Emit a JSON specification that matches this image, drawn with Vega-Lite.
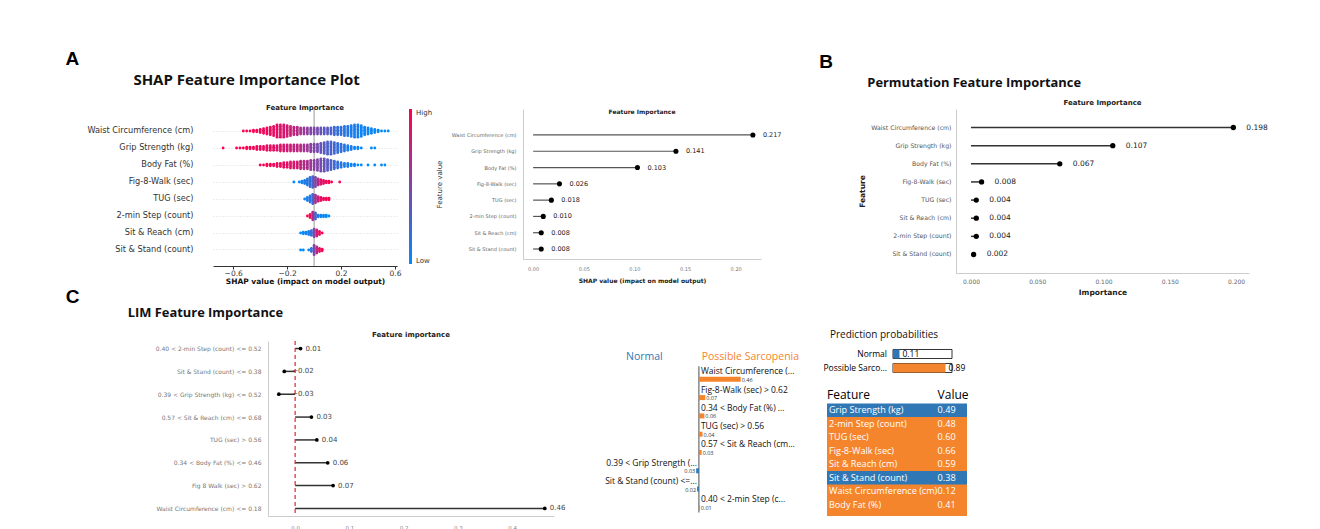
{
"$schema": "https://vega.github.io/schema/vega-lite/v6.json",
"background": "white",
"padding": {"left": 65, "top": 50, "right": 0, "bottom": 0},
"config": {
  "view": {"stroke": "transparent"},
  "font": "DejaVu Sans",
  "axis": {"grid": false, "ticks": false, "domainColor": "#cccccc", "labelColor": "#555555", "titleColor": "#222222", "labelFont": "DejaVu Sans", "titleFont": "DejaVu Sans"},
  "title": {"font": "DejaVu Sans", "fontWeight": "bold", "fontSize": 7, "color": "#222222", "offset": 3}
},
"resolve": {"scale": {"color": "independent"}, "legend": {"color": "independent"}},
"datasets": {
  "names": [{"f":"W","name":"Waist Circumference (cm)"},{"f":"G","name":"Grip Strength (kg)"},{"f":"B","name":"Body Fat (%)"},{"f":"F","name":"Fig-8-Walk (sec)"},{"f":"T","name":"TUG (sec)"},{"f":"S2","name":"2-min Step (count)"},{"f":"SR","name":"Sit & Reach (cm)"},{"f":"SS","name":"Sit & Stand (count)"}],
  "swarm": [
    {"f":"W","s":-0.525,"v":1,"l":[0]},
    {"f":"W","s":-0.5,"v":1,"l":[0]},
    {"f":"W","s":-0.475,"v":1,"l":[0]},
    {"f":"W","s":-0.45,"v":1,"l":[-0.5,0.5]},
    {"f":"W","s":-0.425,"v":0.95,"l":[-0.5,0.5]},
    {"f":"W","s":-0.4,"v":0.95,"l":[-1,0,1]},
    {"f":"W","s":-0.375,"v":0.95,"l":[-1.5,-0.5,0.5,1.5]},
    {"f":"W","s":-0.35,"v":0.95,"l":[-2,-1,0,1,2]},
    {"f":"W","s":-0.325,"v":0.9,"l":[-2.5,-1.5,-0.5,0.5,1.5,2.5]},
    {"f":"W","s":-0.3,"v":0.9,"l":[-3,-2,-1,0,1,2,3]},
    {"f":"W","s":-0.275,"v":0.9,"l":[-4,-3,-2,-1,0,1,2,3,4]},
    {"f":"W","s":-0.25,"v":0.85,"l":[-4,-3,-2,-1,0,1,2,3,4]},
    {"f":"W","s":-0.225,"v":0.85,"l":[-4,-3,-2,-1,0,1,2,3,4]},
    {"f":"W","s":-0.2,"v":0.8,"l":[-3.5,-2.5,-1.5,-0.5,0.5,1.5,2.5,3.5]},
    {"f":"W","s":-0.175,"v":0.8,"l":[-3,-2,-1,0,1,2,3]},
    {"f":"W","s":-0.15,"v":0.75,"l":[-2.5,-1.5,-0.5,0.5,1.5,2.5]},
    {"f":"W","s":-0.125,"v":0.7,"l":[-2.5,-1.5,-0.5,0.5,1.5,2.5]},
    {"f":"W","s":-0.1,"v":0.65,"l":[-2,-1,0,1,2]},
    {"f":"W","s":-0.075,"v":0.6,"l":[-2,-1,0,1,2]},
    {"f":"W","s":-0.05,"v":0.55,"l":[-2,-1,0,1,2]},
    {"f":"W","s":-0.025,"v":0.5,"l":[-2,-1,0,1,2]},
    {"f":"W","s":0,"v":0.5,"l":[-2,-1,0,1,2]},
    {"f":"W","s":0.025,"v":0.45,"l":[-2,-1,0,1,2]},
    {"f":"W","s":0.05,"v":0.4,"l":[-2,-1,0,1,2]},
    {"f":"W","s":0.075,"v":0.35,"l":[-2,-1,0,1,2]},
    {"f":"W","s":0.1,"v":0.35,"l":[-2,-1,0,1,2]},
    {"f":"W","s":0.125,"v":0.3,"l":[-2,-1,0,1,2]},
    {"f":"W","s":0.15,"v":0.25,"l":[-2.5,-1.5,-0.5,0.5,1.5,2.5]},
    {"f":"W","s":0.175,"v":0.2,"l":[-2.5,-1.5,-0.5,0.5,1.5,2.5]},
    {"f":"W","s":0.2,"v":0.2,"l":[-2.5,-1.5,-0.5,0.5,1.5,2.5]},
    {"f":"W","s":0.225,"v":0.15,"l":[-3,-2,-1,0,1,2,3]},
    {"f":"W","s":0.25,"v":0.15,"l":[-3,-2,-1,0,1,2,3]},
    {"f":"W","s":0.275,"v":0.1,"l":[-3.5,-2.5,-1.5,-0.5,0.5,1.5,2.5,3.5]},
    {"f":"W","s":0.3,"v":0.1,"l":[-4,-3,-2,-1,0,1,2,3,4]},
    {"f":"W","s":0.325,"v":0.1,"l":[-4,-3,-2,-1,0,1,2,3,4]},
    {"f":"W","s":0.35,"v":0.05,"l":[-3.5,-2.5,-1.5,-0.5,0.5,1.5,2.5,3.5]},
    {"f":"W","s":0.375,"v":0.05,"l":[-2.5,-1.5,-0.5,0.5,1.5,2.5]},
    {"f":"W","s":0.4,"v":0.05,"l":[-2,-1,0,1,2]},
    {"f":"W","s":0.425,"v":0.05,"l":[-1.5,-0.5,0.5,1.5]},
    {"f":"W","s":0.45,"v":0,"l":[-1,0,1]},
    {"f":"W","s":0.475,"v":0,"l":[-0.5,0.5]},
    {"f":"W","s":0.5,"v":0,"l":[0]},
    {"f":"W","s":0.525,"v":0,"l":[0]},
    {"f":"W","s":0.55,"v":0,"l":[0]},
    {"f":"G","s":-0.675,"v":1,"l":[0]},
    {"f":"G","s":-0.575,"v":1,"l":[0]},
    {"f":"G","s":-0.55,"v":1,"l":[0]},
    {"f":"G","s":-0.525,"v":1,"l":[0]},
    {"f":"G","s":-0.5,"v":1,"l":[-0.5,0.5]},
    {"f":"G","s":-0.475,"v":1,"l":[-0.5,0.5]},
    {"f":"G","s":-0.45,"v":0.95,"l":[-0.5,0.5]},
    {"f":"G","s":-0.425,"v":0.95,"l":[-1,0,1]},
    {"f":"G","s":-0.4,"v":0.95,"l":[-1,0,1]},
    {"f":"G","s":-0.375,"v":0.95,"l":[-1,0,1]},
    {"f":"G","s":-0.35,"v":0.9,"l":[-1.5,-0.5,0.5,1.5]},
    {"f":"G","s":-0.325,"v":0.9,"l":[-1.5,-0.5,0.5,1.5]},
    {"f":"G","s":-0.3,"v":0.9,"l":[-1.5,-0.5,0.5,1.5]},
    {"f":"G","s":-0.275,"v":0.85,"l":[-1.5,-0.5,0.5,1.5]},
    {"f":"G","s":-0.25,"v":0.85,"l":[-2,-1,0,1,2]},
    {"f":"G","s":-0.225,"v":0.85,"l":[-2,-1,0,1,2]},
    {"f":"G","s":-0.2,"v":0.8,"l":[-2,-1,0,1,2]},
    {"f":"G","s":-0.175,"v":0.8,"l":[-2,-1,0,1,2]},
    {"f":"G","s":-0.15,"v":0.75,"l":[-2,-1,0,1,2]},
    {"f":"G","s":-0.125,"v":0.75,"l":[-2,-1,0,1,2]},
    {"f":"G","s":-0.1,"v":0.7,"l":[-2,-1,0,1,2]},
    {"f":"G","s":-0.075,"v":0.65,"l":[-2,-1,0,1,2]},
    {"f":"G","s":-0.05,"v":0.6,"l":[-2,-1,0,1,2]},
    {"f":"G","s":-0.025,"v":0.55,"l":[-2.5,-1.5,-0.5,0.5,1.5,2.5]},
    {"f":"G","s":0,"v":0.5,"l":[-2.5,-1.5,-0.5,0.5,1.5,2.5]},
    {"f":"G","s":0.025,"v":0.45,"l":[-2.5,-1.5,-0.5,0.5,1.5,2.5]},
    {"f":"G","s":0.05,"v":0.4,"l":[-3,-2,-1,0,1,2,3]},
    {"f":"G","s":0.075,"v":0.35,"l":[-3.5,-2.5,-1.5,-0.5,0.5,1.5,2.5,3.5]},
    {"f":"G","s":0.1,"v":0.3,"l":[-4,-3,-2,-1,0,1,2,3,4]},
    {"f":"G","s":0.125,"v":0.3,"l":[-4,-3,-2,-1,0,1,2,3,4]},
    {"f":"G","s":0.15,"v":0.25,"l":[-3.5,-2.5,-1.5,-0.5,0.5,1.5,2.5,3.5]},
    {"f":"G","s":0.175,"v":0.2,"l":[-3,-2,-1,0,1,2,3]},
    {"f":"G","s":0.2,"v":0.2,"l":[-2.5,-1.5,-0.5,0.5,1.5,2.5]},
    {"f":"G","s":0.225,"v":0.15,"l":[-2,-1,0,1,2]},
    {"f":"G","s":0.25,"v":0.1,"l":[-1.5,-0.5,0.5,1.5]},
    {"f":"G","s":0.275,"v":0.1,"l":[-1,0,1]},
    {"f":"G","s":0.3,"v":0.05,"l":[-0.5,0.5]},
    {"f":"G","s":0.325,"v":0.05,"l":[-0.5,0.5]},
    {"f":"G","s":0.35,"v":0,"l":[0]},
    {"f":"G","s":0.425,"v":0,"l":[0]},
    {"f":"G","s":0.45,"v":0,"l":[0]},
    {"f":"B","s":-0.4,"v":1,"l":[0]},
    {"f":"B","s":-0.375,"v":1,"l":[0]},
    {"f":"B","s":-0.35,"v":1,"l":[-0.5,0.5]},
    {"f":"B","s":-0.325,"v":1,"l":[-0.5,0.5]},
    {"f":"B","s":-0.3,"v":0.95,"l":[-0.5,0.5]},
    {"f":"B","s":-0.275,"v":0.95,"l":[-1,0,1]},
    {"f":"B","s":-0.25,"v":0.95,"l":[-1,0,1]},
    {"f":"B","s":-0.225,"v":0.9,"l":[-1.5,-0.5,0.5,1.5]},
    {"f":"B","s":-0.2,"v":0.9,"l":[-1.5,-0.5,0.5,1.5]},
    {"f":"B","s":-0.175,"v":0.85,"l":[-2,-1,0,1,2]},
    {"f":"B","s":-0.15,"v":0.85,"l":[-2,-1,0,1,2]},
    {"f":"B","s":-0.125,"v":0.8,"l":[-2,-1,0,1,2]},
    {"f":"B","s":-0.1,"v":0.75,"l":[-2.5,-1.5,-0.5,0.5,1.5,2.5]},
    {"f":"B","s":-0.075,"v":0.7,"l":[-2.5,-1.5,-0.5,0.5,1.5,2.5]},
    {"f":"B","s":-0.05,"v":0.65,"l":[-2.5,-1.5,-0.5,0.5,1.5,2.5]},
    {"f":"B","s":-0.025,"v":0.6,"l":[-3,-2,-1,0,1,2,3]},
    {"f":"B","s":0,"v":0.55,"l":[-3,-2,-1,0,1,2,3]},
    {"f":"B","s":0.025,"v":0.5,"l":[-3.5,-2.5,-1.5,-0.5,0.5,1.5,2.5,3.5]},
    {"f":"B","s":0.05,"v":0.45,"l":[-4,-3,-2,-1,0,1,2,3,4]},
    {"f":"B","s":0.075,"v":0.4,"l":[-4,-3,-2,-1,0,1,2,3,4]},
    {"f":"B","s":0.1,"v":0.35,"l":[-3.5,-2.5,-1.5,-0.5,0.5,1.5,2.5,3.5]},
    {"f":"B","s":0.125,"v":0.3,"l":[-3,-2,-1,0,1,2,3]},
    {"f":"B","s":0.15,"v":0.25,"l":[-2.5,-1.5,-0.5,0.5,1.5,2.5]},
    {"f":"B","s":0.175,"v":0.2,"l":[-2,-1,0,1,2]},
    {"f":"B","s":0.2,"v":0.15,"l":[-1.5,-0.5,0.5,1.5]},
    {"f":"B","s":0.225,"v":0.1,"l":[-1,0,1]},
    {"f":"B","s":0.25,"v":0.1,"l":[-1,0,1]},
    {"f":"B","s":0.275,"v":0.05,"l":[-0.5,0.5]},
    {"f":"B","s":0.3,"v":0.05,"l":[-0.5,0.5]},
    {"f":"B","s":0.325,"v":0,"l":[0]},
    {"f":"B","s":0.35,"v":0,"l":[0]},
    {"f":"B","s":0.4,"v":0,"l":[0]},
    {"f":"B","s":0.45,"v":0,"l":[0]},
    {"f":"B","s":0.5,"v":0,"l":[0]},
    {"f":"B","s":0.525,"v":0,"l":[0]},
    {"f":"F","s":-0.15,"v":0,"l":[0]},
    {"f":"F","s":-0.11,"v":0.05,"l":[0]},
    {"f":"F","s":-0.09,"v":0.05,"l":[-0.5,0.5]},
    {"f":"F","s":-0.07,"v":0.1,"l":[-1,0,1]},
    {"f":"F","s":-0.05,"v":0.15,"l":[-2,-1,0,1,2]},
    {"f":"F","s":-0.03,"v":0.2,"l":[-3,-2,-1,0,1,2,3]},
    {"f":"F","s":-0.01,"v":0.3,"l":[-3.5,-2.5,-1.5,-0.5,0.5,1.5,2.5,3.5]},
    {"f":"F","s":0.01,"v":0.5,"l":[-3,-2,-1,0,1,2,3]},
    {"f":"F","s":0.03,"v":0.7,"l":[-2,-1,0,1,2]},
    {"f":"F","s":0.05,"v":0.85,"l":[-1.5,-0.5,0.5,1.5]},
    {"f":"F","s":0.07,"v":0.9,"l":[-1,0,1]},
    {"f":"F","s":0.09,"v":0.95,"l":[-0.5,0.5]},
    {"f":"F","s":0.11,"v":1,"l":[-0.5,0.5]},
    {"f":"F","s":0.13,"v":1,"l":[0]},
    {"f":"F","s":0.19,"v":1,"l":[0]},
    {"f":"T","s":-0.07,"v":0.05,"l":[0]},
    {"f":"T","s":-0.05,"v":0.1,"l":[-1,0,1]},
    {"f":"T","s":-0.03,"v":0.15,"l":[-2,-1,0,1,2]},
    {"f":"T","s":-0.01,"v":0.3,"l":[-3,-2,-1,0,1,2,3]},
    {"f":"T","s":0.01,"v":0.6,"l":[-2.5,-1.5,-0.5,0.5,1.5,2.5]},
    {"f":"T","s":0.03,"v":0.8,"l":[-1.5,-0.5,0.5,1.5]},
    {"f":"T","s":0.05,"v":0.9,"l":[-1,0,1]},
    {"f":"T","s":0.07,"v":0.95,"l":[-0.5,0.5]},
    {"f":"T","s":0.09,"v":1,"l":[-0.5,0.5]},
    {"f":"T","s":0.11,"v":1,"l":[-0.5,0.5]},
    {"f":"S2","s":-0.05,"v":1,"l":[0]},
    {"f":"S2","s":-0.03,"v":0.9,"l":[-1,0,1]},
    {"f":"S2","s":-0.01,"v":0.7,"l":[-2.5,-1.5,-0.5,0.5,1.5,2.5]},
    {"f":"S2","s":0.01,"v":0.3,"l":[-2,-1,0,1,2]},
    {"f":"S2","s":0.03,"v":0.1,"l":[-0.5,0.5]},
    {"f":"S2","s":0.05,"v":0.05,"l":[-0.5,0.5]},
    {"f":"S2","s":0.07,"v":0,"l":[-0.5,0.5]},
    {"f":"S2","s":0.09,"v":0,"l":[-0.5,0.5]},
    {"f":"S2","s":0.11,"v":0,"l":[0]},
    {"f":"SR","s":-0.1,"v":0,"l":[0]},
    {"f":"SR","s":-0.08,"v":0,"l":[-0.5,0.5]},
    {"f":"SR","s":-0.06,"v":0.05,"l":[-0.5,0.5]},
    {"f":"SR","s":-0.04,"v":0.1,"l":[-1,0,1]},
    {"f":"SR","s":-0.02,"v":0.2,"l":[-1.5,-0.5,0.5,1.5]},
    {"f":"SR","s":0,"v":0.5,"l":[-2.5,-1.5,-0.5,0.5,1.5,2.5]},
    {"f":"SR","s":0.02,"v":0.8,"l":[-2,-1,0,1,2]},
    {"f":"SR","s":0.04,"v":0.95,"l":[-1,0,1]},
    {"f":"SR","s":0.06,"v":1,"l":[0]},
    {"f":"SS","s":-0.1,"v":0,"l":[0]},
    {"f":"SS","s":-0.08,"v":0,"l":[0]},
    {"f":"SS","s":-0.04,"v":0.05,"l":[0]},
    {"f":"SS","s":-0.02,"v":0.2,"l":[-1,0,1]},
    {"f":"SS","s":0,"v":0.5,"l":[-3,-2,-1,0,1,2,3]},
    {"f":"SS","s":0.02,"v":0.7,"l":[-2,-1,0,1,2]},
    {"f":"SS","s":0.04,"v":0.9,"l":[-1,0,1]},
    {"f":"SS","s":0.06,"v":1,"l":[-0.5,0.5]}
  ],
  "shap": [{"name":"Waist Circumference (cm)","val":0.217},{"name":"Grip Strength (kg)","val":0.141},{"name":"Body Fat (%)","val":0.103},{"name":"Fig-8-Walk (sec)","val":0.026},{"name":"TUG (sec)","val":0.018},{"name":"2-min Step (count)","val":0.010},{"name":"Sit & Reach (cm)","val":0.008},{"name":"Sit & Stand (count)","val":0.008}],
  "perm": [{"name":"Waist Circumference (cm)","val":0.198},{"name":"Grip Strength (kg)","val":0.107},{"name":"Body Fat (%)","val":0.067},{"name":"Fig-8-Walk (sec)","val":0.008},{"name":"TUG (sec)","val":0.004},{"name":"Sit & Reach (cm)","val":0.004},{"name":"2-min Step (count)","val":0.004},{"name":"Sit & Stand (count)","val":0.002}],
  "lim": [{"name":"0.40 < 2-min Step (count) <= 0.52","val":0.01},{"name":"Sit & Stand (count) <= 0.38","val":-0.02},{"name":"0.39 < Grip Strength (kg) <= 0.52","val":-0.03},{"name":"0.57 < Sit & Reach (cm) <= 0.68","val":0.03},{"name":"TUG (sec) > 0.56","val":0.04},{"name":"0.34 < Body Fat (%) <= 0.46","val":0.06},{"name":"Fig 8 Walk (sec) > 0.62","val":0.07},{"name":"Waist Circumference (cm) <= 0.18","val":0.46}],
  "lime": [{"name":"Waist Circumference (...","val":0.46,"lab":"0.46","side":"Possible Sarcopenia"},{"name":"Fig-8-Walk (sec) > 0.62","val":0.07,"lab":"0.07","side":"Possible Sarcopenia"},{"name":"0.34 < Body Fat (%) ...","val":0.06,"lab":"0.06","side":"Possible Sarcopenia"},{"name":"TUG (sec) > 0.56","val":0.04,"lab":"0.04","side":"Possible Sarcopenia"},{"name":"0.57 < Sit & Reach (cm...","val":0.03,"lab":"0.03","side":"Possible Sarcopenia"},{"name":"0.39 < Grip Strength (...","val":-0.03,"lab":"0.03","side":"Normal"},{"name":"Sit & Stand (count) <=...","val":-0.02,"lab":"0.02","side":"Normal"},{"name":"0.40 < 2-min Step (c...","val":0.01,"lab":"0.01","side":"Possible Sarcopenia"}],
  "probs": [{"cls":"Normal","p":0.11,"side":"Normal"},{"cls":"Possible Sarco...","p":0.89,"side":"Possible Sarcopenia"}],
  "table": [{"feat":"Grip Strength (kg)","val":0.49,"side":"Normal"},{"feat":"2-min Step (count)","val":0.48,"side":"Possible Sarcopenia"},{"feat":"TUG (sec)","val":0.60,"side":"Possible Sarcopenia"},{"feat":"Fig-8-Walk (sec)","val":0.66,"side":"Possible Sarcopenia"},{"feat":"Sit & Reach (cm)","val":0.59,"side":"Possible Sarcopenia"},{"feat":"Sit & Stand (count)","val":0.38,"side":"Normal"},{"feat":"Waist Circumference (cm)","val":0.12,"side":"Possible Sarcopenia"},{"feat":"Body Fat (%)","val":0.41,"side":"Possible Sarcopenia"}]
},
"spacing": -9,
"vconcat": [
 {"resolve": {"scale": {"color": "independent"}, "legend": {"color": "independent"}},
  "spacing": 36,
  "hconcat": [
   {"title": {"text": "A", "anchor": "start", "font": "Liberation Sans", "fontSize": 19, "fontWeight": "bold", "color": "#000000", "dx": -21, "offset": 4},
    "resolve": {"scale": {"color": "independent"}, "legend": {"color": "independent"}},
    "vconcat": [
     {"title": {"text": "SHAP Feature Importance Plot", "anchor": "start", "font": "Open Sans", "fontSize": 15, "fontWeight": "bold", "color": "#111111", "dx": 47, "offset": 15},
      "resolve": {"scale": {"color": "independent"}, "legend": {"color": "independent"}},
      "spacing": 0,
      "hconcat": [
       {"width": 184, "height": 157,
        "title": {"text": "Feature Importance", "anchor": "middle", "frame": "group", "offset": -2, "fontSize": 7},
        "layer": [
         {"data": {"values": [{}]}, "mark": {"type": "rule", "color": "#999999", "strokeWidth": 1}, "encoding": {"x": {"datum": 0, "type": "quantitative"}}},
         {"data": {"name": "swarm"},
          "transform": [{"flatten": ["l"]}, {"lookup": "f", "from": {"data": {"name": "names"}, "key": "f", "fields": ["name"]}}],
          "mark": {"type": "circle", "size": 8, "opacity": 1},
          "encoding": {
           "x": {"field": "s", "type": "quantitative", "scale": {"domain": [-0.75, 0.615], "nice": false, "zero": false},
                 "axis": {"title": "SHAP value (impact on model output)", "titleFontSize": 7.5, "titleFontWeight": "bold", "titleColor": "#111111", "titlePadding": 1, "values": [-0.6,-0.4,-0.2,0,0.2,0.4,0.6], "format": ".1f", "labelFontSize": 7.5, "labelColor": "#333333", "domainColor": "#333333", "ticks": true, "tickSize": 3, "tickColor": "#333333", "labelPadding": 0}},
           "y": {"field": "name", "type": "nominal", "sort": ["Waist Circumference (cm)","Grip Strength (kg)","Body Fat (%)","Fig-8-Walk (sec)","TUG (sec)","2-min Step (count)","Sit & Reach (cm)","Sit & Stand (count)"],
                 "scale": {"paddingInner": 0, "paddingOuter": 0.618, "align": 0.643},
                 "axis": {"title": null, "labelFontSize": 8.2, "labelColor": "#333333", "labelPadding": 20, "domain": false, "grid": true, "gridColor": "#dddddd", "gridDash": [1, 2], "bandPosition": 0.5}},
           "yOffset": {"field": "l", "type": "quantitative", "scale": {"domain": [-5.5, 5.5]}},
           "color": {"field": "v", "type": "quantitative", "scale": {"domain": [0, 1], "range": ["#008bfb", "#ff0051"], "interpolate": "rgb"},
                     "legend": {"title": null, "orient": "right", "offset": 12, "gradientLength": 155, "gradientThickness": 3, "values": [0, 1], "labelExpr": "datum.value > 0.5 ? 'High' : 'Low'", "labelFontSize": 7, "labelColor": "#333333", "labelOffset": 4, "gradientStrokeWidth": 0}}
          }}
        ]},
       {"width": 238, "height": 150,
        "title": {"text": "Feature Importance", "anchor": "middle", "frame": "group", "offset": -6, "fontSize": 6},
        "data": {"name": "shap"},
        "encoding": {"y": {"field": "name", "type": "nominal", "sort": null, "scale": {"paddingInner": 0, "paddingOuter": 0.604, "align": 0.906},
                           "axis": {"title": "Feature value", "titleFontSize": 7, "titleFontWeight": "normal", "titleColor": "#333333", "titlePadding": 9, "labelFontSize": 5, "labelColor": "#666666", "labelPadding": 7, "domainColor": "#cccccc"}}},
        "layer": [
         {"mark": {"type": "rule", "color": "#555555", "strokeWidth": 1.2},
          "encoding": {"x": {"field": "val", "type": "quantitative", "scale": {"domain": [-0.01, 0.225], "nice": false, "zero": false},
                             "axis": {"title": "SHAP value (impact on model output)", "titleFontSize": 6, "titleFontWeight": "bold", "titlePadding": 6, "values": [0, 0.05, 0.1, 0.15, 0.2], "format": ".2f", "labelFontSize": 5, "labelColor": "#777777", "labelPadding": 7, "domainColor": "#cccccc"}},
                       "x2": {"datum": 0}}},
         {"mark": {"type": "circle", "size": 26, "color": "#000000", "opacity": 1}, "encoding": {"x": {"field": "val", "type": "quantitative"}}},
         {"mark": {"type": "text", "align": "left", "dx": 10, "fontSize": 6.5, "color": "#222222"}, "encoding": {"x": {"field": "val", "type": "quantitative"}, "text": {"field": "val", "type": "quantitative", "format": ".3f"}}}
        ]}
      ]}
    ]},
   {"title": {"text": "B", "anchor": "start", "font": "Liberation Sans", "fontSize": 19, "fontWeight": "bold", "color": "#000000", "dx": -39, "offset": 5},
    "vconcat": [
     {"title": {"text": "Permutation Feature Importance", "anchor": "start", "font": "Open Sans", "fontSize": 12.9, "fontWeight": "bold", "color": "#111111", "dx": 9, "offset": 9},
      "vconcat": [
       {"width": 293, "height": 164,
        "title": {"text": "Feature Importance", "anchor": "middle", "frame": "group", "offset": 3, "fontSize": 7},
        "data": {"name": "perm"},
        "encoding": {"y": {"field": "name", "type": "nominal", "sort": null, "scale": {"paddingInner": 0, "paddingOuter": 0.52},
                           "axis": {"title": "Feature", "titleFontSize": 7.5, "titleFontWeight": "bold", "titlePadding": 4, "labelFontSize": 6.2, "labelColor": "#555555", "labelPadding": 5, "domainColor": "#cccccc"}}},
        "layer": [
         {"mark": {"type": "rule", "color": "#333333", "strokeWidth": 1.5},
          "encoding": {"x": {"field": "val", "type": "quantitative", "scale": {"domain": [-0.0113, 0.2098], "nice": false, "zero": false},
                             "axis": {"title": "Importance", "titleFontSize": 7.5, "titleFontWeight": "bold", "titlePadding": 4, "values": [0, 0.025, 0.05, 0.075, 0.1, 0.125, 0.15, 0.175, 0.2], "format": ".3f", "labelFontSize": 6, "labelColor": "#666666", "labelPadding": 5, "domainColor": "#cccccc"}},
                       "x2": {"datum": 0}}},
         {"mark": {"type": "circle", "size": 28, "color": "#000000", "opacity": 1}, "encoding": {"x": {"field": "val", "type": "quantitative"}}},
         {"mark": {"type": "text", "align": "left", "dx": 13, "fontSize": 7.5, "color": "#222222"}, "encoding": {"x": {"field": "val", "type": "quantitative"}, "text": {"field": "val", "type": "quantitative", "format": ".3f"}}}
        ]}
      ]}
    ]}
 ]},
 {"spacing": -149,
  "hconcat": [
   {"width": 1, "height": 1, "data": {"values": [{}]}, "mark": {"type": "text"}, "encoding": {"text": {"value": " "}}},
   {"spacing": 38,
    "hconcat": [
     {"title": {"text": "C", "anchor": "start", "font": "Liberation Sans", "fontSize": 19, "fontWeight": "bold", "color": "#000000", "dx": -62, "offset": 0},
      "vconcat": [
       {"title": {"text": "LIM Feature Importance", "anchor": "start", "font": "Open Sans", "fontSize": 12.9, "fontWeight": "bold", "color": "#111111", "dx": -27, "offset": 11.5},
        "vconcat": [
         {"width": 286, "height": 175,
          "title": {"text": "Feature importance", "anchor": "middle", "frame": "group", "offset": 2, "fontSize": 7},
          "layer": [
           {"data": {"name": "lim"}, "mark": {"type": "rule", "color": "#333333", "strokeWidth": 1.5},
            "encoding": {"x": {"field": "val", "type": "quantitative", "scale": {"domain": [-0.05, 0.477], "nice": false, "zero": false},
                               "axis": {"title": "Importance", "titleFontSize": 7, "titleFontWeight": "bold", "titlePadding": 2, "values": [0, 0.1, 0.2, 0.3, 0.4], "format": ".1f", "labelFontSize": 5.5, "labelColor": "#888888", "labelPadding": 9, "domainColor": "#cccccc"}},
                         "x2": {"datum": 0},
                         "y": {"field": "name", "type": "nominal", "sort": null, "scale": {"type": "point", "padding": 0.33},
                               "axis": {"title": null, "labelFontSize": 6, "labelColor": "#777777", "labelPadding": 7, "domainColor": "#cccccc"}}}},
           {"data": {"name": "lim"}, "mark": {"type": "circle", "size": 14, "color": "#000000", "opacity": 1},
            "encoding": {"x": {"field": "val", "type": "quantitative"}, "y": {"field": "name", "type": "nominal", "sort": null}}},
           {"data": {"name": "lim"}, "transform": [{"filter": "datum.val >= 0"}],
            "mark": {"type": "text", "align": "left", "dx": 5, "fontSize": 7, "color": "#444444"},
            "encoding": {"x": {"field": "val", "type": "quantitative"}, "y": {"field": "name", "type": "nominal", "sort": null}, "text": {"field": "val", "type": "quantitative", "format": ".2f"}}},
           {"data": {"name": "lim"}, "transform": [{"filter": "datum.val < 0"}],
            "mark": {"type": "text", "align": "left", "dx": -3, "fontSize": 7, "color": "#444444"},
            "encoding": {"x": {"datum": 0, "type": "quantitative"}, "y": {"field": "name", "type": "nominal", "sort": null}, "text": {"field": "val", "type": "quantitative", "format": ".2f"}}},
           {"data": {"values": [{}]}, "mark": {"type": "rule", "color": "#e3242b", "strokeDash": [4, 3], "strokeWidth": 1.2},
            "encoding": {"x": {"datum": 0, "type": "quantitative"}}}
          ]}
        ]}
      ]},
     {"spacing": 13,
      "hconcat": [
       {"width": 200, "height": 171.55,
        "layer": [
         {"data": {"name": "lime"}, "mark": {"type": "tick", "color": "#000000", "thickness": 1, "size": 18.3},
          "encoding": {"x": {"datum": 0, "type": "quantitative", "scale": {"domain": [-1, 1.2], "nice": false, "zero": false}, "axis": null},
                       "y": {"field": "name", "type": "nominal", "sort": null,
                             "scale": {"domain": ["hdr","Waist Circumference (...","Fig-8-Walk (sec) > 0.62","0.34 < Body Fat (%) ...","TUG (sec) > 0.56","0.57 < Sit & Reach (cm...","0.39 < Grip Strength (...","Sit & Stand (count) <=...","0.40 < 2-min Step (c..."], "paddingInner": 0, "paddingOuter": 0.187, "align": 1},
                             "axis": null}}},
         {"data": {"name": "lime"}, "mark": {"type": "bar", "height": 5, "yOffset": 4},
          "encoding": {"x": {"field": "val", "type": "quantitative"}, "x2": {"datum": 0}, "y": {"field": "name", "type": "nominal", "sort": null},
                       "color": {"field": "side", "type": "nominal", "scale": {"domain": ["Normal", "Possible Sarcopenia"], "range": ["#2f78b5", "#f5852c"]}, "legend": null}}},
         {"data": {"name": "lime"}, "transform": [{"filter": "datum.val > 0"}],
          "mark": {"type": "text", "align": "left", "baseline": "middle", "dx": 2, "dy": -4, "font": "Open Sans", "fontSize": 8.5, "color": "#111111"},
          "encoding": {"x": {"datum": 0, "type": "quantitative"}, "y": {"field": "name", "type": "nominal", "sort": null}, "text": {"field": "name"}}},
         {"data": {"name": "lime"}, "transform": [{"filter": "datum.val < 0"}],
          "mark": {"type": "text", "align": "right", "baseline": "middle", "dx": -2, "dy": -4, "font": "Open Sans", "fontSize": 8.5, "color": "#111111"},
          "encoding": {"x": {"datum": 0, "type": "quantitative"}, "y": {"field": "name", "type": "nominal", "sort": null}, "text": {"field": "name"}}},
         {"data": {"name": "lime"}, "transform": [{"filter": "datum.val > 0"}],
          "mark": {"type": "text", "align": "left", "baseline": "middle", "dx": 1, "dy": 4.5, "font": "Open Sans", "fontSize": 5.5, "color": "#333333"},
          "encoding": {"x": {"field": "val", "type": "quantitative"}, "y": {"field": "name", "type": "nominal", "sort": null}, "text": {"field": "lab"}}},
         {"data": {"name": "lime"}, "transform": [{"filter": "datum.val < 0"}],
          "mark": {"type": "text", "align": "right", "baseline": "middle", "dx": -1, "dy": 4.5, "font": "Open Sans", "fontSize": 5.5, "color": "#333333"},
          "encoding": {"x": {"field": "val", "type": "quantitative"}, "y": {"field": "name", "type": "nominal", "sort": null}, "text": {"field": "lab"}}},
         {"data": {"values": [{}]}, "mark": {"type": "text", "align": "center", "baseline": "middle", "font": "Open Sans", "fontSize": 10.5, "color": "#2f78b5"},
          "encoding": {"x": {"datum": -0.6, "type": "quantitative"}, "y": {"datum": "hdr"}, "text": {"value": "Normal"}}},
         {"data": {"values": [{}]}, "mark": {"type": "text", "align": "left", "baseline": "middle", "font": "Open Sans", "fontSize": 10.5, "color": "#f5852c"},
          "encoding": {"x": {"datum": 0.03, "type": "quantitative"}, "y": {"datum": "hdr"}, "text": {"value": "Possible Sarcopenia"}}}
        ]},
       {"spacing": 12,
        "vconcat": [
         {"width": 125, "height": 34,
          "title": {"text": "Prediction probabilities", "anchor": "start", "frame": "group", "font": "Open Sans", "fontSize": 10, "fontWeight": "normal", "color": "#111111", "dx": 3, "offset": 1},
          "data": {"name": "probs"},
          "encoding": {"y": {"field": "cls", "type": "nominal", "sort": null, "scale": {"paddingInner": 0, "paddingOuter": 0.214, "align": 1}, "axis": null}},
          "layer": [
           {"mark": {"type": "bar", "height": 9, "fill": "white", "stroke": "#000000", "strokeWidth": 0.8},
            "encoding": {"x": {"datum": 0, "type": "quantitative", "scale": {"domain": [-1.1186, 1], "nice": false, "zero": false}, "axis": null}, "x2": {"datum": 1}}},
           {"mark": {"type": "bar", "height": 9},
            "encoding": {"x": {"field": "p", "type": "quantitative"}, "x2": {"datum": 0},
                         "color": {"field": "side", "type": "nominal", "scale": {"domain": ["Normal", "Possible Sarcopenia"], "range": ["#2f78b5", "#f5852c"]}, "legend": null}}},
           {"mark": {"type": "text", "align": "left", "baseline": "middle", "dx": 3, "font": "Open Sans", "fontSize": 8.5, "color": "#000000"},
            "encoding": {"x": {"field": "p", "type": "quantitative"}, "text": {"field": "p", "type": "quantitative", "format": ".2f"}}},
           {"mark": {"type": "text", "align": "right", "baseline": "middle", "dx": -6, "font": "Open Sans", "fontSize": 8.5, "color": "#000000"},
            "encoding": {"x": {"datum": 0, "type": "quantitative"}, "text": {"field": "cls"}}}
          ]},
         {"width": 140, "height": 121.5,
          "layer": [
           {"data": {"name": "table"}, "mark": {"type": "rect"},
            "encoding": {"x": {"datum": 0, "type": "quantitative", "scale": {"domain": [0, 1], "nice": false}, "axis": null}, "x2": {"datum": 1},
                         "y": {"field": "feat", "type": "nominal", "sort": null,
                               "scale": {"domain": ["hdr","Grip Strength (kg)","2-min Step (count)","TUG (sec)","Fig-8-Walk (sec)","Sit & Reach (cm)","Sit & Stand (count)","Waist Circumference (cm)","Body Fat (%)"], "paddingInner": 0, "paddingOuter": 0},
                               "axis": null},
                         "color": {"field": "side", "type": "nominal", "scale": {"domain": ["Normal", "Possible Sarcopenia"], "range": ["#2f78b5", "#f5852c"]}, "legend": null}}},
           {"data": {"name": "table"}, "mark": {"type": "text", "align": "left", "baseline": "middle", "dx": 2, "font": "Open Sans", "fontSize": 9.1, "color": "#ffffff"},
            "encoding": {"x": {"datum": 0, "type": "quantitative"}, "y": {"field": "feat", "type": "nominal", "sort": null}, "text": {"field": "feat"}}},
           {"data": {"name": "table"}, "mark": {"type": "text", "align": "left", "baseline": "middle", "font": "Open Sans", "fontSize": 9.1, "color": "#ffffff"},
            "encoding": {"x": {"datum": 0.79, "type": "quantitative"}, "y": {"field": "feat", "type": "nominal", "sort": null}, "text": {"field": "val", "type": "quantitative", "format": ".2f"}}},
           {"data": {"values": [{}]}, "mark": {"type": "text", "align": "left", "baseline": "middle", "dy": -2, "font": "Open Sans", "fontSize": 12, "color": "#000000"},
            "encoding": {"x": {"datum": 0, "type": "quantitative"}, "y": {"datum": "hdr"}, "text": {"value": "Feature"}}},
           {"data": {"values": [{}]}, "mark": {"type": "text", "align": "left", "baseline": "middle", "dy": -2, "font": "Open Sans", "fontSize": 12, "color": "#000000"},
            "encoding": {"x": {"datum": 0.79, "type": "quantitative"}, "y": {"datum": "hdr"}, "text": {"value": "Value"}}}
          ]}
        ]}
      ]}
    ]}
 ]}
]
}
